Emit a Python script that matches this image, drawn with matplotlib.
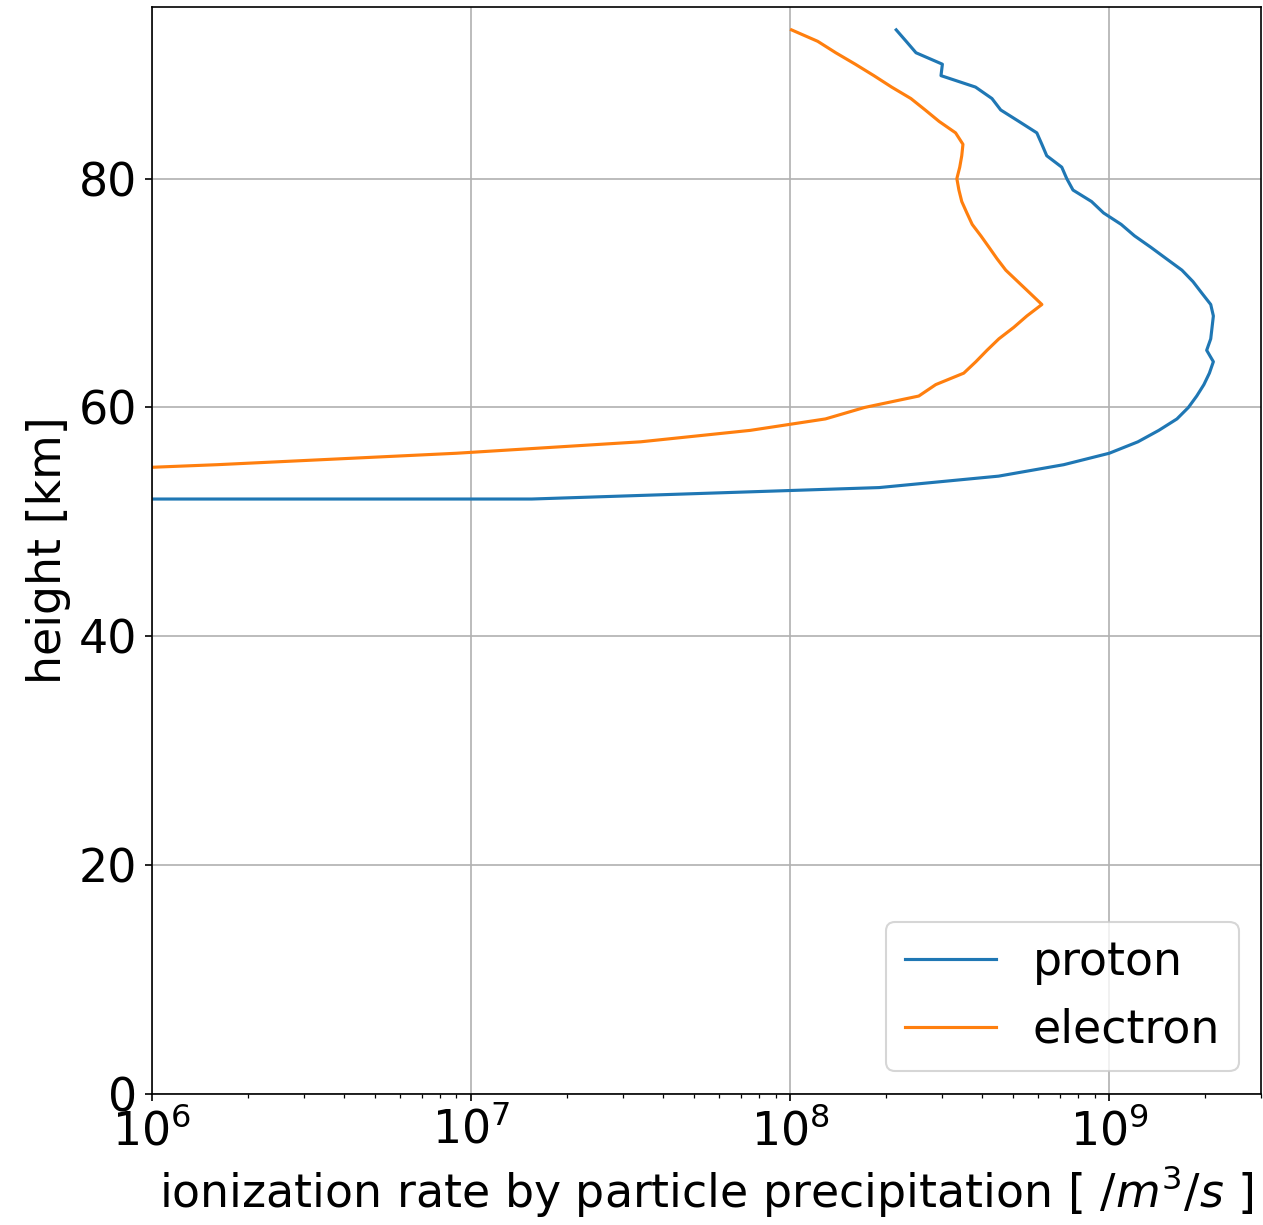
import numpy as np
import matplotlib
matplotlib.use("Agg")
import matplotlib.pyplot as plt

# 高度 [km] 与电离率 [/m^3/s]
proton_height = np.arange(51, 94)
proton_rate = [0, 1.55e7, 1.9e8, 4.5e8, 7.2e8, 1.0e9, 1.23e9, 1.43e9, 1.63e9, 1.77e9,
               1.88e9, 1.98e9, 2.06e9, 2.12e9, 2.02e9, 2.08e9, 2.10e9, 2.12e9, 2.08e9, 1.95e9,
               1.83e9, 1.69e9, 1.51e9, 1.35e9, 1.20e9, 1.09e9, 9.6e8, 8.8e8, 7.7e8, 7.36e8,
               7.1e8, 6.37e8, 6.15e8, 5.93e8, 5.21e8, 4.57e8, 4.29e8, 3.81e8, 2.97e8, 3.0e8,
               2.48e8, 2.31e8, 2.15e8]

electron_height = np.arange(54, 94)
electron_rate = [2.0e5, 1.6e6, 9.0e6, 3.4e7, 7.5e7, 1.29e8, 1.71e8, 2.53e8, 2.86e8, 3.5e8,
                 3.82e8, 4.14e8, 4.51e8, 5.02e8, 5.52e8, 6.15e8, 5.64e8, 5.17e8, 4.74e8, 4.45e8,
                 4.20e8, 3.96e8, 3.72e8, 3.58e8, 3.45e8, 3.38e8, 3.33e8, 3.40e8, 3.45e8, 3.48e8,
                 3.3e8, 2.93e8, 2.65e8, 2.39e8, 2.08e8, 1.83e8, 1.60e8, 1.39e8, 1.22e8, 1.01e8]

fs = 22

fig = plt.figure(figsize=(1263 / 150, 1225 / 150), dpi=150)
ax = fig.add_axes([0.1203, 0.1069, 0.8785, 0.8874])

ax.plot(proton_rate, proton_height, label="proton")
ax.plot(electron_rate, electron_height, label="electron")

ax.set_xscale("log")
ax.set_xlim(1e6, 3e9)
ax.set_ylim(0, 95)
ax.set_yticks([0, 20, 40, 60, 80])
ax.grid(True)
ax.tick_params(labelsize=fs)

ax.set_xlabel(r"ionization rate by particle precipitation [ $/m^3/s$ ]", fontsize=fs)
ax.set_ylabel("height [km]", fontsize=fs)
ax.legend(loc="lower right", fontsize=fs)

fig.savefig("out.png", dpi=150)
